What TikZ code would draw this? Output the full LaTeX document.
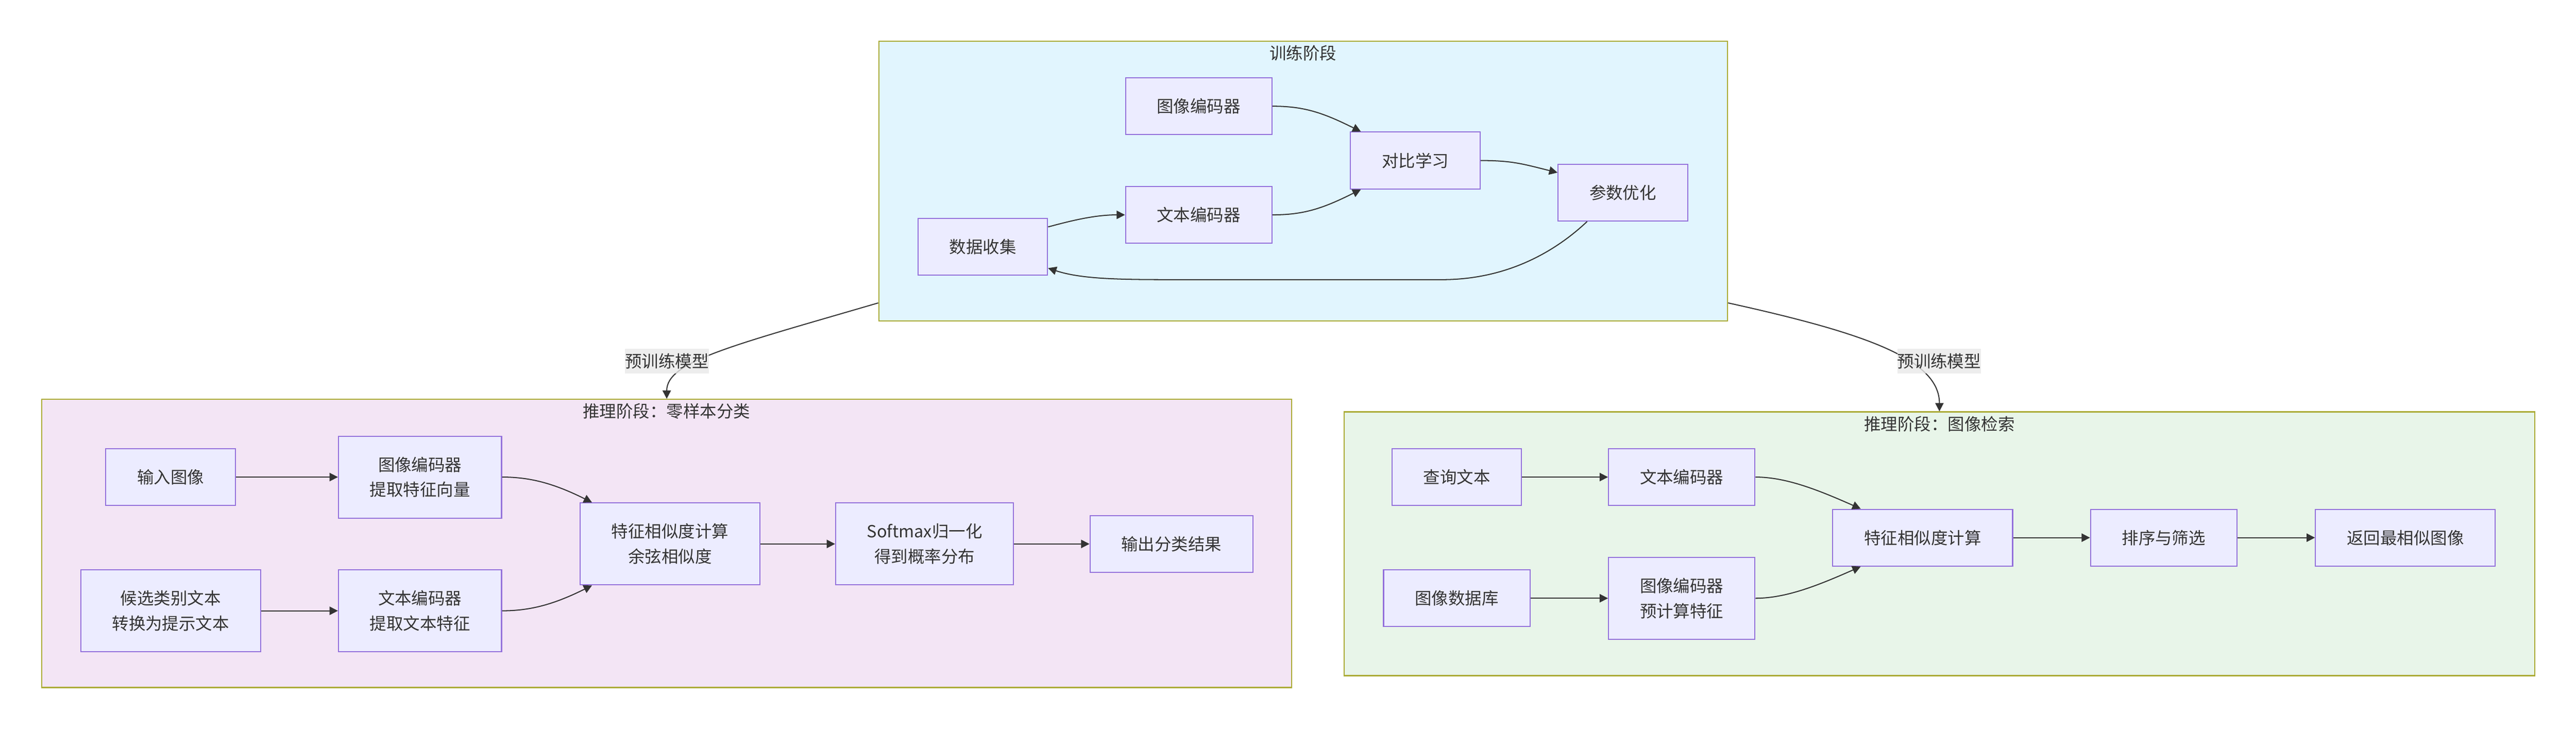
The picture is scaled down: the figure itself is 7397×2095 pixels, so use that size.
\documentclass[tikz,border=0pt]{standalone}
\usepackage{fontspec}
\setmainfont{Noto Sans CJK SC}
\usetikzlibrary{arrows.meta}
\definecolor{nodeFill}{HTML}{ECECFF}
\definecolor{nodeLine}{HTML}{9370DB}
\definecolor{clusterLine}{HTML}{AAAA33}
\definecolor{trainFill}{HTML}{E1F5FE}
\definecolor{zeroFill}{HTML}{F3E5F5}
\definecolor{retrFill}{HTML}{E8F5E9}
\definecolor{labelFill}{HTML}{E8E8E8}
\definecolor{lineC}{HTML}{333333}
\definecolor{txtC}{HTML}{333333}

\begin{document}
\begin{tikzpicture}[x=0.01cm, y=-0.01cm,
    font=\fontsize{13.66pt}{20.49pt}\selectfont,
    procBox/.style={draw=nodeLine, fill=nodeFill, line width=0.03cm, text=txtC,
        align=center, inner xsep=0.9cm, inner ysep=0pt, minimum height=1.63cm},
    procBoxTwo/.style={procBox, minimum height=2.35cm},
    clusterBox/.style={draw=clusterLine, line width=0.03cm, inner sep=0pt},
    clusterTitle/.style={text=txtC, inner sep=0pt},
    edgeLabel/.style={fill=labelFill, fill opacity=0.8, text opacity=1, text=txtC,
        inner sep=0pt, minimum height=0.72cm},
    flowLine/.style={draw=lineC, line width=0.03cm, -{Triangle[length=0.24cm, width=0.24cm]}}]
\useasboundingbox (0,0) rectangle (7397,2095);

% subgraphs
\node[clusterBox, fill=trainFill, minimum width=24.36cm, minimum height=8.04cm] (train) at (3742,520) {};
\node[clusterBox, fill=zeroFill, minimum width=35.87cm, minimum height=8.27cm] (zero) at (1914.5,1560.5) {};
\node[clusterBox, fill=retrFill, minimum width=34.18cm, minimum height=7.57cm] (retr) at (5569,1561.5) {};
\node[clusterTitle] (trainT) at (3742,153) {训练阶段};
\node[clusterTitle] (zeroT) at (1914,1181) {推理阶段：零样本分类};
\node[clusterTitle] (retrT) at (5569,1217) {推理阶段：图像检索};

% training
\node[procBox] (collect) at (2822,709) {数据收集};
\node[procBox] (imgEnc) at (3442,305) {图像编码器};
\node[procBox] (txtEnc) at (3442,617) {文本编码器};
\node[procBox] (contrast) at (4064,461) {对比学习};
\node[procBox] (optim) at (4660,553) {参数优化};

% zero-shot classification
\node[procBox] (inImg) at (490,1370) {输入图像};
\node[procBoxTwo] (imgEncZ) at (1206,1370) {图像编码器\\提取特征向量};
\node[procBoxTwo] (cand) at (490,1754) {候选类别文本\\转换为提示文本};
\node[procBoxTwo] (txtEncZ) at (1206,1754) {文本编码器\\提取文本特征};
\node[procBoxTwo] (simZ) at (1924,1562) {特征相似度计算\\余弦相似度};
\node[procBoxTwo] (softmax) at (2655,1562) {Softmax归一化\\得到概率分布};
\node[procBox] (outCls) at (3364,1562) {输出分类结果};

% image retrieval
\node[procBox] (query) at (4183,1370) {查询文本};
\node[procBox] (txtEncR) at (4829,1370) {文本编码器};
\node[procBox] (imgDb) at (4183,1718) {图像数据库};
\node[procBoxTwo] (imgEncR) at (4829,1718) {图像编码器\\预计算特征};
\node[procBox] (simR) at (5521,1544) {特征相似度计算};
\node[procBox] (rank) at (6213,1544) {排序与筛选};
\node[procBox] (retImg) at (6907,1544) {返回最相似图像};

% straight links
\foreach \a/\b in {inImg/imgEncZ, cand/txtEncZ, simZ/softmax, softmax/outCls,
    query/txtEncR, imgDb/imgEncR, simR/rank, rank/retImg}
{
    \draw[flowLine] (\a) -- (\b);
}

% curved links
\draw[flowLine] (collect.17) .. controls +(60,-16) and +(-90,0) .. (txtEnc.west);
\draw[flowLine] (imgEnc.east) .. controls +(90,0) and +(-110,-55) .. (contrast.152);
\draw[flowLine] (txtEnc.east) .. controls +(90,0) and +(-110,55) .. (contrast.208);
\draw[flowLine] (contrast.east) .. controls +(90,0) and +(-100,-25) .. (optim.163);
\draw[flowLine] (optim.219) .. controls +(-73,69) and +(200,-3) .. (4150,803)
    -- (3350,803) .. controls +(-150,0) and +(90,30) .. (collect.-18);
\draw[flowLine] (imgEncZ.east) .. controls +(80,0) and +(-110,-55) .. (simZ.152);
\draw[flowLine] (txtEncZ.east) .. controls +(80,0) and +(-110,55) .. (simZ.208);
\draw[flowLine] (txtEncR.east) .. controls +(90,0) and +(-118,-52) .. (simR.155);
\draw[flowLine] (imgEncR.east) .. controls +(90,0) and +(-118,52) .. (simR.205);

% pretrained model links
\draw[flowLine] (train.196) .. controls +(-424,124) and +(0,-107) .. (zero.north);
\draw[flowLine] (train.-16) .. controls +(380,84) and +(0,-153) .. (retr.north);
\node[edgeLabel] (pretrainL) at (1915,1037) {预训练模型};
\node[edgeLabel] (pretrainR) at (5568,1037) {预训练模型};
\end{tikzpicture}
\end{document}
